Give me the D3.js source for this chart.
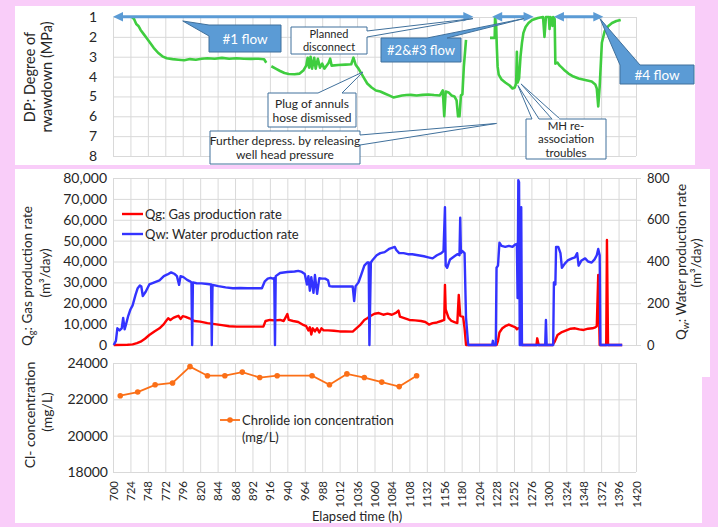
<!DOCTYPE html>
<html><head><meta charset="utf-8">
<script src="https://cdn.jsdelivr.net/npm/d3@7"></script>
<style>
body{margin:0;background:#f9cdf9;}
svg text{font-family:Lato,"Open Sans",sans-serif;fill:#262626;}
</style></head>
<body><svg id="c" width="718" height="527"></svg>
<script>
// ---------------- DATA ----------------
const xTickLabels = [700,724,748,772,796,820,844,868,892,916,940,964,988,1012,1036,1060,1084,1108,1132,1156,1180,1204,1228,1252,1276,1300,1324,1348,1372,1396,1420];
const dpTicks = [1,2,3,4,5,6,7,8];
const qgTicks = [0,10000,20000,30000,40000,50000,60000,70000,80000];
const qwTicks = [0,200,400,600,800];
const clTicks = [18000,20000,22000,24000];

// DP: degree of drawdown (MPa); null = gap
const dpTime = [726,729,732,735,738,742,746,751,756,762,768,774,782,790,798,806,814,822,830,840,850,860,870,880,890,900,908,911,
 914,
 918,924,930,936,942,950,957,962,966,968,970,972,974,977,979,982,985,988,991,994,997,999,1001,1010,1020,1028,1031,1034,1038,1042,1046,1050,1056,1062,1068,1074,1080,1086,1092,1098,1104,1110,1118,1126,1134,1142,1150,1154,1156,1158,1162,1166,1170,1173,1175,1177,1179,1181,1183,1186,
 1200,
 1219,1225.5,1226,1227.5,1228.5,1229.5,1231,1235,1240,1246,1250,1253,1255,1256,1257,1259,1261,1263,1265,1268,1272,1277,1285,1292,1294,1296,1300,1301,1302,1304,1305,1306,1308,1309,1312,1315,1318,1322,1327,1334,1341,1347,1353,1359,1364,1366,1368,1370,1373,1377,1382,1387,1393,1399];
const dpValue = [1.0,1.1,1.35,1.45,1.65,1.85,2.05,2.3,2.55,2.8,2.98,3.08,3.12,3.15,3.18,3.12,3.15,3.1,3.08,3.1,3.06,3.1,3.08,3.1,3.11,3.1,3.13,3.3,
 null,
 3.48,3.6,3.72,3.82,3.87,3.88,3.85,3.7,3.45,3.05,3.55,3.0,3.6,3.05,3.6,3.1,3.55,3.35,3.6,3.45,3.3,3.1,3.45,3.42,3.4,3.38,3.05,3.4,3.6,3.85,4.1,4.35,4.55,4.7,4.75,4.85,4.95,5.05,5.0,4.95,4.93,4.92,4.95,4.92,4.9,4.93,4.95,4.7,6.0,4.75,4.8,4.95,5.0,5.2,6.0,6.0,4.95,4.9,3.5,2.15,
 null,
 2.05,2.05,1.0,1.5,2.6,3.5,3.9,4.15,4.3,4.45,4.6,4.55,4.35,2.75,4.3,4.1,3.0,2.3,1.8,1.5,1.3,1.15,1.05,1.0,2.0,1.0,1.0,1.6,1.0,1.05,1.45,1.0,1.1,3.35,3.3,3.45,3.55,3.7,3.85,4.0,4.1,4.15,4.2,4.25,4.4,4.6,5.5,4.5,2.3,1.7,1.45,1.3,1.2,1.15];

// Qw: water production rate (m3/day)
const qwTime = [701,704,706,709,712,714,716,718,721,724,727,731,734,737,739,741,745,750,757,764,770,775,780,785,788,791,793,797,802,806,808,809,810,815,822,830,835,836,837,845,855,865,875,885,895,905,909,913,917,920,922,923,924,930,940,950,955,960,964,967,969,971,973,976,978,981,984,988,992,996,998,1002,1010,1020,1030,1032,1034,1038,1042,1046,1050,1052,1053,1055,1058,1063,1068,1074,1080,1084,1088,1090,1094,1100,1106,1112,1120,1128,1134,1140,1146,1152,1155,1157,1158,1160,1164,1170,1174,1177,1178,1179,1181,1184,1186,1189,1222,1223,1224,1227,1228,1230,1232,1235,1240,1245,1250,1253,1256,1257,1258,1259,1260,1261,1262,1263,1295,1296,1297,1306,1307,1309,1310,1313,1316,1318,1322,1326,1332,1336,1339,1341,1345,1350,1354,1359,1363,1366,1368,1370,1371,1401];
const qwValue = [0,20,80,70,80,130,75,100,140,170,190,240,272,285,280,235,255,290,300,310,330,338,348,340,330,288,330,325,312,305,300,0,300,296,295,292,290,0,288,282,276,272,273,272,272,272,305,318,322,318,320,0,330,345,350,352,355,350,340,290,330,260,325,250,335,245,320,318,318,310,282,280,280,280,280,210,282,300,340,380,395,395,0,395,410,430,440,445,460,465,470,455,440,440,435,435,430,425,420,415,430,440,450,660,380,370,410,425,435,430,610,440,450,440,130,0,0,20,0,0,370,380,490,475,470,475,470,480,485,225,790,780,0,0,660,0,0,120,0,0,300,290,470,470,440,370,390,405,415,420,440,380,405,415,400,395,410,430,460,430,0,0];

// Qg: gas production rate (m3/day)
const qgTime = [701,720,727,733,738,744,750,757,764,770,773,776,779,783,787,790,793,796,800,805,812,820,830,840,850,860,870,880,890,900,907,910,916,922,930,935,940,942,948,955,962,966,969,971,973,975,978,981,984,987,990,996,1004,1012,1020,1030,1035,1040,1046,1050,1055,1060,1066,1072,1078,1084,1090,1093,1095,1100,1108,1116,1124,1130,1135,1140,1146,1152,1156,1157,1158,1162,1166,1170,1174,1176,1178,1182,1184,1186,1228,1230,1232,1236,1240,1245,1250,1254,1256,1258,1262,1263,1283,1284,1286,1305,1308,1312,1318,1324,1330,1336,1342,1348,1354,1360,1364,1366,1368,1370,1379,1380,1381.5,1401];
const qgValue = [0,100,300,900,1600,3000,4800,6500,8000,10000,11500,12800,12000,13000,13600,14000,12500,13800,13500,12800,11500,11200,10500,10000,9500,9000,8800,8800,8800,8800,8800,11500,12000,11800,12000,11500,14800,12000,11500,11000,9600,9000,7000,8500,5000,8000,6500,8000,6000,8000,7000,7000,6800,6500,6500,6400,8000,9500,12000,12800,14000,15000,15300,14500,15000,14500,15500,16500,13600,13000,12000,11800,11500,11000,9800,10500,10800,11500,12000,28800,17000,13000,11500,11000,10500,24000,14000,13500,8000,0,0,2000,6000,8000,9000,9800,9000,8500,7500,8000,8000,0,0,3200,0,0,1500,4800,6200,7000,7800,8000,7500,7200,7800,8000,8500,9000,33500,0,0,50300,0,0];

// Chloride ion concentration (mg/L)
const clTime = [710,734,758,782,806,830,854,878,902,926,974,998,1022,1046,1070,1094,1118];
const clValue = [22200,22400,22800,22900,23800,23300,23300,23500,23200,23300,23300,22800,23400,23200,22950,22700,23300];

// flow periods (h)
const flowPeriods = [[700,1196],[1222,1279],[1307,1375]];

// ---------------- DRAW ----------------
const svg = d3.select("#c");
svg.append("rect").attr("width",718).attr("height",527).attr("fill","#f9cdf9");
svg.append("rect").attr("x",15).attr("y",6).attr("width",680).attr("height",159).attr("fill","#fff");
svg.append("rect").attr("x",15).attr("y",169).attr("width",695).attr("height",208).attr("fill","#fff");
svg.append("rect").attr("x",15).attr("y",377).attr("width",687).attr("height",146).attr("fill","#fff");

const X0 = 113, X1 = 636;
const x = d3.scaleLinear().domain([700,1420]).range([X0,X1]);
const yDP = d3.scaleLinear().domain([1,8]).range([17,156]);
const yQg = d3.scaleLinear().domain([0,80000]).range([345,178]);
const yQw = d3.scaleLinear().domain([0,800]).range([345,178]);
const yCl = d3.scaleLinear().domain([18000,24000]).range([472,363]);
const GRID = "#d9d9d9";

function styleAxis(g, fs){
  g.attr("font-family",null).attr("font-size",fs);
  g.select(".domain").remove();
  g.selectAll(".tick line").attr("stroke",GRID);
  g.selectAll(".tick text").attr("fill","#262626");
}
function vgrid(yBottom, height){
  const g = svg.append("g").attr("transform",`translate(0,${yBottom})`)
    .call(d3.axisBottom(x).tickValues(xTickLabels).tickSize(-height).tickFormat(""));
  styleAxis(g, 11);
  return g;
}
// top chart
vgrid(yDP(8), yDP(8)-yDP(1));
styleAxis(svg.append("g").attr("transform",`translate(${X0},0)`)
  .call(d3.axisLeft(yDP).tickValues(dpTicks).tickSize(-(X1-X0)).tickPadding(16).tickFormat(d3.format("d"))), 14);
// middle chart
vgrid(yQg(0), yQg(0)-yQg(80000));
styleAxis(svg.append("g").attr("transform",`translate(${X0},0)`)
  .call(d3.axisLeft(yQg).tickValues(qgTicks).tickSize(-(X1-X0)).tickPadding(6).tickFormat(d3.format(","))), 14);
const ra = svg.append("g").attr("transform",`translate(${X1},0)`)
  .call(d3.axisRight(yQw).tickValues(qwTicks).tickSize(5).tickPadding(6));
styleAxis(ra, 13);
// bottom chart
const bx = vgrid(yCl(18000), yCl(18000)-yCl(24000));
bx.call(d3.axisBottom(x).tickValues(xTickLabels).tickSize(-(yCl(18000)-yCl(24000))).tickFormat(d3.format("d")));
styleAxis(bx, 11.5);
bx.selectAll(".tick text").attr("transform","rotate(-90)").attr("text-anchor","end")
  .attr("x",-9).attr("y",0).attr("dy","0.35em");
styleAxis(svg.append("g").attr("transform",`translate(${X0},0)`)
  .call(d3.axisLeft(yCl).tickValues(clTicks).tickSize(-(X1-X0)).tickPadding(5).tickFormat(d3.format("d"))), 14);

// series
const mk = (t,v)=>t.map((d,i)=>[d,v[i]]);
const dpLine = d3.line().defined(d=>d[1]!=null).x(d=>x(d[0])).y(d=>yDP(d[1]));
svg.append("path").datum(mk(dpTime,dpValue)).attr("d",dpLine)
  .attr("fill","none").attr("stroke","#3fcd3f").attr("stroke-width",2.6).attr("stroke-linejoin","round");

svg.append("path").datum(mk(qgTime,qgValue)).attr("d",d3.line().x(d=>x(d[0])).y(d=>yQg(d[1])))
  .attr("fill","none").attr("stroke","#ff0000").attr("stroke-width",2.4).attr("stroke-linejoin","round");
svg.append("path").datum(mk(qwTime,qwValue)).attr("d",d3.line().x(d=>x(d[0])).y(d=>yQw(d[1])))
  .attr("fill","none").attr("stroke","#3333ff").attr("stroke-width",2.4).attr("stroke-linejoin","round");

const ORANGE = "#fb6f17";
svg.append("path").datum(mk(clTime,clValue)).attr("d",d3.line().x(d=>x(d[0])).y(d=>yCl(d[1])))
  .attr("fill","none").attr("stroke",ORANGE).attr("stroke-width",1.8);
svg.selectAll(".clpt").data(mk(clTime,clValue)).join("circle").attr("class","clpt")
  .attr("cx",d=>x(d[0])).attr("cy",d=>yCl(d[1])).attr("r",2.8).attr("fill",ORANGE);

// legends
function legendLine(x1,x2,y,color,label){
  svg.append("line").attr("x1",x1).attr("x2",x2).attr("y1",y).attr("y2",y).attr("stroke",color).attr("stroke-width",2.4);
  svg.append("text").attr("x",x2+2).attr("y",y+4.5).attr("font-size",13).text(label);
}
legendLine(122,143,214,"#ff0000","Qg: Gas production rate");
legendLine(122,143,234,"#3333ff","Qw: Water production rate");
svg.append("line").attr("x1",220).attr("x2",240).attr("y1",420).attr("y2",420).attr("stroke",ORANGE).attr("stroke-width",1.8);
svg.append("circle").attr("cx",230).attr("cy",420).attr("r",2.8).attr("fill",ORANGE);
svg.append("text").attr("x",242).attr("y",424.5).attr("font-size",13).text("Chrolide ion concentration");
svg.append("text").attr("x",242).attr("y",441.5).attr("font-size",13).text("(mg/L)");

// axis titles
function vtext(cx, cy, fs, build){
  const t = svg.append("text").attr("transform",`translate(${cx},${cy}) rotate(-90)`)
    .attr("text-anchor","middle").attr("font-size",fs);
  build(t);
}
vtext(35,77,14.5,t=>t.text("DP: Degree of"));
vtext(52,77,14.5,t=>t.text("rwawdown (MPa)"));
vtext(32,276,13.5,t=>{t.append("tspan").text("Q");t.append("tspan").attr("font-size",9).attr("dy",3).text("g");t.append("tspan").attr("dy",-3).text(": Gas production rate");});
vtext(50,273,13.5,t=>t.text("(m³/day)"));
vtext(686,262,13.5,t=>{t.append("tspan").text("Q");t.append("tspan").attr("font-size",9).attr("dy",3).text("w");t.append("tspan").attr("dy",-3).text(": Water production rate");});
vtext(701,263,13.5,t=>t.text("(m³/day)"));
vtext(35,415,14,t=>t.text("Cl- concentration"));
vtext(52,412,14,t=>t.text("(mg/L)"));
svg.append("text").attr("x",357).attr("y",521).attr("text-anchor","middle").attr("font-size",13).text("Elapsed time (h)");

// annotations: flow arrows
const AB = "#5b9bd5", AS = "#41719c";
const ay = yDP(1) - 0.3;
flowPeriods.forEach(([a,b])=>{
  const xa = x(a), xb = x(b);
  svg.append("line").attr("x1",xa+8).attr("x2",xb-8).attr("y1",ay).attr("y2",ay).attr("stroke",AB).attr("stroke-width",3);
  svg.append("path").attr("d",`M${xa},${ay}L${xa+10},${ay-4.8}L${xa+10},${ay+4.8}Z`).attr("fill",AB);
  svg.append("path").attr("d",`M${xb},${ay}L${xb-10},${ay-4.8}L${xb-10},${ay+4.8}Z`).attr("fill",AB);
});

// callouts
function callout(o){
  const {bx,by,w,h,side,b1,b2,tip} = o;
  const tx = x(tip[0]), ty = yDP(tip[1]);
  let d;
  if(side==="left") d=`M${bx},${by}H${bx+w}V${by+h}H${bx}V${by+b2}L${tx},${ty}L${bx},${by+b1}Z`;
  else if(side==="right") d=`M${bx},${by}H${bx+w}V${by+b1}L${tx},${ty}L${bx+w},${by+b2}V${by+h}H${bx}Z`;
  else d=`M${bx},${by}H${bx+b1}L${tx},${ty}L${bx+b2},${by}H${bx+w}V${by+h}H${bx}Z`;
  svg.append("path").attr("d",d).attr("fill",o.fill).attr("stroke",AS).attr("stroke-width",1);
  if(o.extra){ const e=o.extra; const ex=x(e.tip[0]), ey=yDP(e.tip[1]);
    svg.append("path").attr("d",`M${bx+e.b1},${by}L${ex},${ey}L${bx+e.b2},${by}`).attr("fill",o.fill).attr("stroke",AS).attr("stroke-width",1);
    svg.append("line").attr("x1",bx+e.b1+0.5).attr("x2",bx+e.b2-0.5).attr("y1",by).attr("y2",by).attr("stroke",o.fill).attr("stroke-width",1.5);
  }
  o.lines.forEach((s,i)=>{
    svg.append("text").attr("x",bx+w/2).attr("y",o.base[i]).attr("text-anchor","middle")
      .attr("font-size",o.fs).style("fill",o.tc).text(s);
  });
}
callout({bx:209,by:25,w:72,h:27,side:"left",b1:0,b2:11,tip:[796,1.2],fill:AB,tc:"#fff",fs:13.5,lines:["#1 flow"],base:[43.5]});
callout({bx:291,by:27,w:76,h:27,side:"right",b1:4,b2:10,tip:[1195.6,1.08],fill:"#fff",tc:"#262626",fs:11,lines:["Planned","disconnect"],base:[37.5,51]});
callout({bx:381,by:38,w:80,h:24,side:"top",b1:46,b2:66,tip:[1265.8,1.08],fill:AB,tc:"#fff",fs:13,lines:["#2&#3 flow"],base:[55]});
callout({bx:268,by:93,w:88,h:34,side:"top",b1:50,b2:74,tip:[1044,3.77],fill:"#fff",tc:"#262626",fs:12,lines:["Plug of annuls","hose dismissed"],base:[107.5,121.5]});
callout({bx:210,by:131,w:150,h:33,side:"right",b1:4,b2:14,tip:[1228,6.36],fill:"#fff",tc:"#262626",fs:12,lines:["Further depress. by releasing","well head pressure"],base:[145,158.5]});
callout({bx:526,by:119,w:80,h:40,side:"top",b1:6,b2:13,tip:[1257.5,4.45],fill:"#fff",tc:"#262626",fs:11.5,lines:["MH re-","association","troubles"],base:[129.5,143,156.5],
  extra:{b1:26,b2:34,tip:[1261.7,4.37]}});
callout({bx:620,by:65,w:74,h:19,side:"top",b1:0,b2:20,tip:[1370.4,1.08],fill:AB,tc:"#fff",fs:13.5,lines:["#4 flow"],base:[79.5]});
</script>
</body></html>
